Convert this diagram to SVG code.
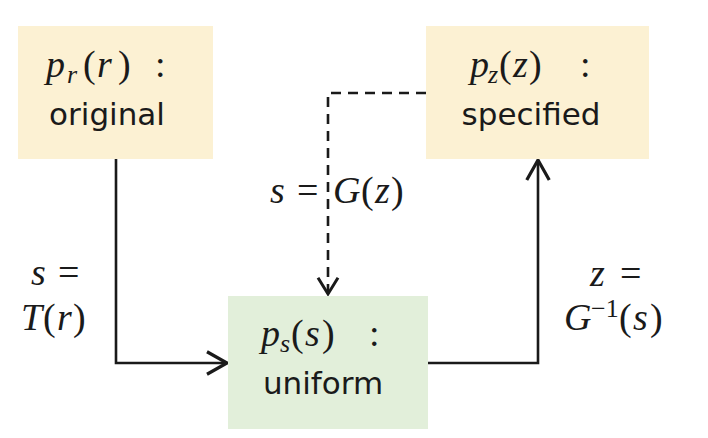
<svg xmlns="http://www.w3.org/2000/svg" width="708" height="438" viewBox="0 0 708 438">
<style>
.yel{fill:#FCF1D3}
.grn{fill:#E2EFDA}
.lab{font-family:"DejaVu Sans",sans-serif;font-size:31px;fill:#1a1a1a;text-anchor:middle}
.m{font-family:"Liberation Serif",serif;font-size:38px;fill:#1a1a1a}
.i{font-style:italic}
.sub{font-size:26px;font-style:italic}
.sup{font-size:26px}
.ln{fill:none;stroke:#1a1a1a;stroke-width:2.6}
.dash{stroke-dasharray:10 7}
</style>
<defs>
<marker id="ah" markerUnits="userSpaceOnUse" markerWidth="30" markerHeight="30" viewBox="-20 -12 22 24" refX="0" refY="0" orient="auto">
<path d="M-16,-9 L0,0 L-16,9" fill="none" stroke="#1a1a1a" stroke-width="2.6"/>
</marker>
<marker id="ahs" markerUnits="userSpaceOnUse" markerWidth="30" markerHeight="30" viewBox="-20 -12 22 24" refX="0" refY="0" orient="auto">
<path d="M-13,-8 L0,0 L-13,8" fill="none" stroke="#1a1a1a" stroke-width="2.4"/>
</marker>
</defs>
<g id="connectors">
<path class="ln" d="M116,159 V363 H227" marker-end="url(#ah)"/>
<path class="ln" d="M428,363 H538 V160" marker-end="url(#ah)"/>
<path class="ln dash" d="M426,93 H328 V294" marker-end="url(#ahs)"/>
</g>
<g id="node-pr">
<rect class="yel" x="18" y="26" width="195" height="133"/>
<text class="m" y="77"><tspan class="i" x="46">p</tspan><tspan class="sub" x="67" dy="6">r</tspan><tspan x="83" dy="-6">(</tspan><tspan class="i" x="97">r</tspan><tspan x="118">)</tspan><tspan x="155">:</tspan></text>
<text class="lab" x="107" y="125">original</text>
</g>
<g id="node-pz">
<rect class="yel" x="426" y="26" width="223" height="133"/>
<text class="m" y="77"><tspan class="i" x="470">p</tspan><tspan class="sub" x="488" dy="6">z</tspan><tspan x="499" dy="-6">(</tspan><tspan class="i" x="513">z</tspan><tspan x="529">)</tspan><tspan x="580">:</tspan></text>
<text class="lab" x="531" y="125">specified</text>
</g>
<g id="node-ps">
<rect class="grn" x="228" y="296" width="200" height="133"/>
<text class="m" y="346"><tspan class="i" x="261">p</tspan><tspan class="sub" x="280" dy="6">s</tspan><tspan x="291" dy="-6">(</tspan><tspan class="i" x="305">s</tspan><tspan x="322">)</tspan><tspan x="369">:</tspan></text>
<text class="lab" x="323" y="394">uniform</text>
</g>
<g id="labels">
<text class="m" y="203"><tspan class="i" x="270">s</tspan><tspan x="297">=</tspan><tspan class="i" x="333">G</tspan><tspan x="361">(</tspan><tspan class="i" x="375">z</tspan><tspan x="391">)</tspan></text>
<text class="m" y="285"><tspan class="i" x="31">s</tspan><tspan x="58">=</tspan></text>
<text class="m" y="330"><tspan class="i" x="21">T</tspan><tspan x="43">(</tspan><tspan class="i" x="57">r</tspan><tspan x="73">)</tspan></text>
<text class="m" y="286"><tspan class="i" x="590">z</tspan><tspan x="620">=</tspan></text>
<text class="m" y="330"><tspan class="i" x="564">G</tspan><tspan class="sup" x="591" dy="-13">−1</tspan><tspan x="619" dy="13">(</tspan><tspan class="i" x="633">s</tspan><tspan x="650">)</tspan></text>
</g>
</svg>
